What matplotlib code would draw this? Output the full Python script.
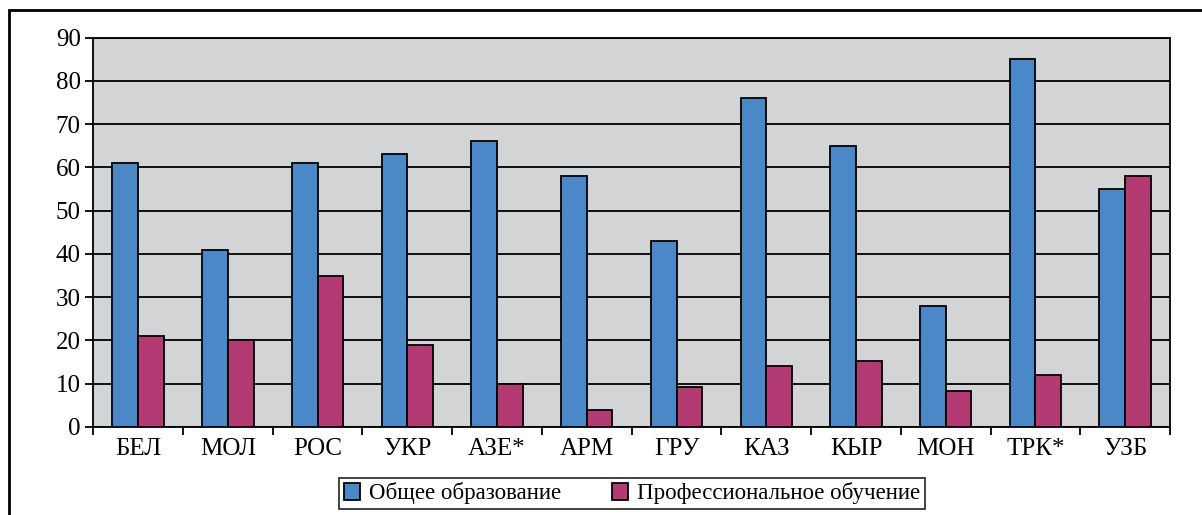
import matplotlib.pyplot as plt
import numpy as np
from matplotlib.patches import Rectangle

# categories and values
countries = ['БЕЛ', 'МОЛ', 'РОС', 'УКР', 'АЗЕ*', 'АРМ', 'ГРУ', 'КАЗ', 'КЫР', 'МОН', 'ТРК*', 'УЗБ']
general = [61, 41, 61, 63, 66, 58, 43, 76, 65, 28, 85, 55]
professional = [21, 20, 35, 19, 10, 4, 9.3, 14, 15.2, 8.2, 12, 58]
series_names = ['Общее образование', 'Профессиональное обучение']

plt.rcParams['font.family'] = ['Liberation Serif', 'DejaVu Serif']

fig = plt.figure(figsize=(12.02, 5.15), dpi=100)
ax = fig.add_axes([0.0776, 0.171, 0.8958, 0.756])

x = np.arange(len(countries))
w = 0.286
ax.set_axisbelow(True)
ax.bar(x - w / 2, general, w, color='#4a88c8', edgecolor='black', linewidth=1.3,
       label=series_names[0], zorder=3)
ax.bar(x + w / 2, professional, w, color='#b33a73', edgecolor='black', linewidth=1.3,
       label=series_names[1], zorder=3)

ax.set_facecolor('#d3d4d6')
ax.set_xlim(-0.5, len(countries) - 0.5)
ax.set_ylim(0, 90)
ax.set_yticks(range(0, 91, 10))
ax.yaxis.grid(True, color='black', linewidth=1.3)
for s in ax.spines.values():
    s.set_linewidth(1.3)

ax.set_xticks(x)
ax.set_xticklabels(countries)
ax.set_xticks(np.arange(-0.5, len(countries)), minor=True)
ax.tick_params(axis='x', which='major', length=0, pad=8, labelsize=18)
ax.tick_params(axis='x', which='minor', length=6, width=1.3, direction='out')
ax.tick_params(axis='y', length=6, width=1.3, labelsize=18, pad=3)

fig.legend(loc='center', bbox_to_anchor=(632 / 1202, 1 - 493.5 / 515), ncol=2,
           frameon=True, fancybox=False, edgecolor='black', fontsize=16.5,
           handlelength=0.7, handleheight=0.7, handletextpad=0.4,
           columnspacing=2.2, borderpad=0.2, borderaxespad=0)
fig.legends[0].get_frame().set_linewidth(1.3)

# outer chart frame (runs off the right and bottom of the image)
fig.patches.append(Rectangle((9 / 1202, -0.1), 1.2, 1 - 10 / 515 + 0.1,
                             transform=fig.transFigure, fill=False,
                             edgecolor='black', linewidth=2))

fig.savefig('out.png', dpi=100)
